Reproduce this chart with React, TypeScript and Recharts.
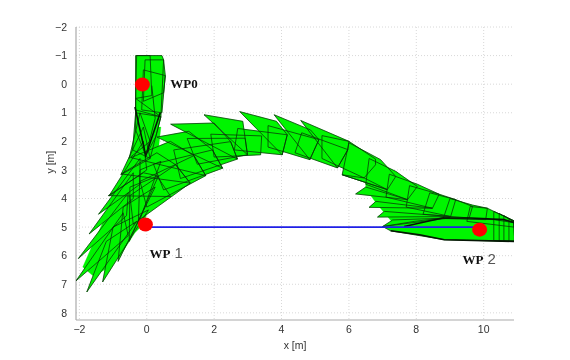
import { ScatterChart, Scatter, XAxis, YAxis, CartesianGrid } from "recharts";

type Corner = { x: number; y: number };

const xTicks = [-2, 0, 2, 4, 6, 8, 10];
const yTicks = [-2, -1, 0, 1, 2, 3, 4, 5, 6, 7, 8];

const q = (...c: number[][]): Corner[] => c.map(([x, y]) => ({ x, y }));

// footprints around WP0
const columnPieces = [
  q([-0.33, -1], [0.45, -1], [0.5, -0.85], [0.42, 1.14], [-0.33, 0.9]),
  q([-0.3, -1], [0.1, -1], [0.15, 0.4], [-0.33, 0.5]),
  q([-0.05, -0.85], [0.5, -0.85], [0.55, -0.3], [0.5, 0.3], [-0.1, 0.6]),
  q([-0.1, -0.5], [0.55, -0.3], [0.45, 1.0], [-0.15, 0.9]),
  q([-0.33, 0.5], [0.42, 1.14], [0.27, 1.83], [-0.03, 2.5], [-0.33, 1.6]),
  q([-0.33, 1.0], [0.42, 1.14], [0.1, 2.6], [-0.42, 2.3]),
];

// serrated fan around WP1, left tips then lower tips
const fanLeftSpikes = [
  q([-2.1, 6.88], [-0.7, 4.5], [-0.55, 5.3]),
  q([-2.03, 6.1], [-0.55, 3.8], [-0.6, 4.6]),
  q([-1.71, 5.24], [-0.4, 3.1], [-0.4, 4.0]),
  q([-1.43, 4.55], [-0.2, 2.6], [-0.2, 3.5]),
  q([-1.12, 3.91], [-0.1, 2.0], [0, 3.0]),
  q([-0.77, 3.17], [-0.1, 1.5], [0.1, 2.6]),
  q([-0.52, 2.59], [-0.2, 1.0], [0.1, 2.0]),
];
const fanLowSpikes = [
  q([-1.78, 7.27], [-1.2, 5.5], [-0.3, 4.8]),
  q([-1.31, 6.92], [-1.0, 5.0], [0.05, 4.4]),
  q([-0.85, 6.2], [-0.7, 4.3], [0.25, 3.6]),
  q([-0.52, 5.5], [-0.5, 3.6], [0.35, 3.2]),
  q([-0.25, 4.9], [-0.2, 3.0], [0.42, 2.7]),
];
const fanBody = q(
  [-0.33, 1.5], [0.42, 1.5], [0.3, 2.8], [0.2, 3.8], [-0.1, 4.9], [-0.35, 5.2], [-0.68, 5.8], [-1.1, 6.38],
  [-1.57, 6.73], [-1.9, 6.4], [-1.61, 5.62], [-1.31, 4.86], [-1.07, 4.22], [-0.85, 3.55], [-0.55, 2.95], [-0.4, 2.6],
);

// rising half of the arc: wedges with a tip on top, bands below them
const arcSpikes = [
  q([-1.14, 3.9], [-0.1, 3.1], [0.3, 3.2], [0.71, 3.93]),
  q([-0.76, 3.14], [0.3, 2.4], [0.86, 2.82], [1.29, 3.46]),
  q([-0.47, 2.57], [0.7, 2.0], [1.4, 2.5], [1.75, 3.2]),
  q([0.3, 1.85], [1.25, 1.65], [1.95, 2.3], [2.25, 2.94]),
  q([0.71, 1.4], [2.0, 1.36], [2.49, 2.01], [2.69, 2.62]),
  q([1.7, 1.07], [2.85, 1.3], [2.92, 1.89], [2.99, 2.47]),
  q([2.76, 0.96], [3.85, 1.3], [4.17, 1.77], [4.02, 2.47]),
  q([3.78, 1.07], [4.86, 1.6], [5.11, 1.94], [4.84, 2.64]),
  q([4.57, 1.27], [6.0, 2.0], [5.97, 2.29], [5.66, 2.93]),
];
const arcBands = [
  q([0.86, 2.82], [1.29, 3.46], [-0.4, 4.9], [-0.5, 3.9]),
  q([1.4, 2.5], [1.75, 3.2], [0, 4.3], [-0.2, 3.4]),
  q([1.95, 2.3], [2.25, 2.94], [0.5, 3.7], [0.2, 2.8]),
  q([2.49, 2.01], [2.69, 2.62], [1, 3.3], [0.8, 2.3]),
  q([2.92, 1.89], [2.99, 2.47], [1.5, 2.8], [1.2, 1.9]),
  q([3.41, 1.81], [3.38, 2.47], [2.0, 2.55], [1.9, 1.75]),
  q([4.17, 1.77], [4.02, 2.47], [2.6, 2.3], [2.7, 1.55]),
  q([5.11, 1.94], [4.84, 2.64], [3.6, 2.2], [3.6, 1.45]),
  q([5.97, 2.29], [5.66, 2.93], [4.4, 2.4], [4.6, 1.7]),
];

// falling half: bands on top, narrow spikes underneath
const fallBands = [
  q([5.2, 1.8], [6.0, 2.0], [6.79, 2.62], [6.79, 2.82], [6.45, 3.28], [5.2, 2.6]),
  q([6.0, 2.05], [6.94, 2.64], [7.39, 3.23], [7.14, 3.69], [5.8, 3.17]),
  q([6.6, 2.6], [7.39, 3.05], [8.03, 3.58], [7.74, 4.04], [6.5, 3.5]),
  q([7.2, 3.15], [8.03, 3.5], [8.68, 3.85], [8.48, 4.34], [7.1, 3.95]),
  q([7.8, 3.55], [8.68, 3.85], [9.17, 4.04], [9.02, 4.63], [7.7, 4.3]),
  q([8.4, 3.8], [9.17, 4.04], [9.67, 4.28], [9.57, 4.68], [8.2, 4.55]),
  q([9.0, 4.0], [9.67, 4.23], [10.11, 4.34], [10.06, 4.74], [8.8, 4.7]),
];
const fallSpikes = [
  q([5.8, 3.17], [6.45, 3.28], [7.14, 3.69]),
  q([6.2, 3.84], [6.5, 3.6], [7.74, 4.04]),
  q([6.6, 4.31], [6.8, 4.1], [8.48, 4.34]),
  q([6.85, 4.65], [7.05, 4.45], [9.02, 4.63]),
  q([7.0, 4.98], [7.3, 4.75], [9.0, 4.68]),
];
const fallBody = q([6.5, 3.3], [7.5, 3.7], [9.0, 4.4], [9.0, 4.75], [7.3, 4.85], [7.05, 4.5], [6.8, 4.15], [6.5, 3.65]);

// the parking spot around WP2
const endPieces = [
  q([7.0, 4.98], [7.94, 4.8], [8.78, 4.68], [10.31, 4.74], [10.92, 4.85], [10.92, 5.5], [8.83, 5.44], [7.24, 5.13]),
  q([9.6, 4.28], [10.11, 4.34], [10.3, 4.45], [10.9, 4.78], [10.9, 5.0], [9.5, 4.8]),
  q([10.3, 4.45], [10.9, 4.78], [10.92, 5.5], [10.3, 5.47]),
  q([10.46, 4.52], [10.9, 4.8], [10.92, 5.5], [10.46, 5.48]),
  q([10.6, 4.6], [10.9, 4.82], [10.92, 5.5], [10.6, 5.49]),
  q([10.75, 4.7], [10.92, 4.85], [10.92, 5.5], [10.75, 5.5]),
];

// heavier strokes where the outlines pile up in the original
const columnRim = q([-0.35, 0.8], [-0.03, 2.5], [0.4, 1.0]);
const columnCurve = q([0.15, 0.05], [0.25, 1.2], [-0.03, 2.5]);
const endTopRim = q([7.64, 4.98], [8.78, 4.68], [9.62, 4.68], [10.6, 4.74], [10.92, 4.85], [10.92, 5.5]);
const endBottomRim = q([7.24, 5.13], [8.1, 5.27], [8.83, 5.44], [10.92, 5.5]);
const heavyLines = [columnRim, endTopRim, endBottomRim];

const blueLine = q([0, 5], [9.7, 5]);
const waypoints = q([-0.13, 0.01], [-0.04, 4.91], [9.88, 5.09]);
const wpNames = ["WP0", "WP", "WP"];
const wpNumbers = ["", "1", "2"];
const wpLabelSpots = q([0.7, 0.15], [0.08, 6.07], [9.37, 6.3]);
const wpLabels = wpLabelSpots.map((s, i) => ({ ...s, name: wpNames[i], num: wpNumbers[i] }));

const outlined = [
  ...columnPieces,
  ...fanLeftSpikes,
  ...fanLowSpikes,
  ...arcSpikes,
  ...arcBands,
  ...fallBands,
  ...fallSpikes,
  ...endPieces,
];
const filled = [fanBody, fallBody, ...outlined];

const nothing = () => <g />;

const toPoints = (props: any) => props.points.map((p: any) => `${p.x},${p.y}`).join(" ");

const fillLine = (props: any) => <polygon points={toPoints(props)} fill="#00f500" stroke="#00f500" strokeWidth={0.3} />;

const edgeLine = (props: any) => (
  <polygon points={toPoints(props)} fill="none" stroke="#0a300a" strokeWidth={0.75} strokeLinejoin="round" />
);

const RedDot = (props: any) => <ellipse cx={props.cx} cy={props.cy} rx={7.5} ry={7} fill="#ff0000" />;

const WpLabel = (props: any) => (
  <text x={props.cx} y={props.cy} fontFamily="'Liberation Serif', serif" fontSize={13} fill="#111">
    <tspan fontWeight="bold">{props.name}</tspan>
    <tspan dx={4} fontSize={15} fill="#555" fontFamily="'Liberation Sans', sans-serif">
      {props.num}
    </tspan>
  </text>
);

const tickStyle = { fontFamily: "'Liberation Sans', sans-serif", fontSize: 10.5, fill: "#333" };

const minusFormat = (v: number) => (v < 0 ? `\u2212${-v}` : `${v}`);

export default function App() {
  return (
    <div style={{ position: "absolute", left: 0, top: 0, width: 570, height: 360, filter: "blur(0.45px)" }}>
      <ScatterChart width={570} height={360} margin={{ top: 27, right: 56, bottom: 0, left: 30 }}>
        <CartesianGrid stroke="#d8d8d8" strokeDasharray="1 2" horizontalValues={yTicks} verticalValues={xTicks} />
        <XAxis
          type="number"
          dataKey="x"
          domain={[-2.1, 10.9]}
          ticks={xTicks}
          allowDataOverflow
          stroke="#aaaaaa"
          strokeWidth={1.2}
          tickLine={false}
          tickMargin={0}
          tick={tickStyle}
          tickFormatter={minusFormat}
          label={{ value: "x [m]", position: "insideBottom", offset: 11, style: tickStyle }}
          height={40}
        />
        <YAxis
          type="number"
          dataKey="y"
          reversed
          domain={[-2, 8.25]}
          ticks={yTicks}
          allowDataOverflow
          stroke="#aaaaaa"
          strokeWidth={1.2}
          tickLine={false}
          tickMargin={3}
          tick={tickStyle}
          tickFormatter={minusFormat}
          label={{ value: "y [m]", angle: -90, position: "insideLeft", offset: 20, style: tickStyle }}
          width={46}
        />
        {/* fills first, every outline on top, so the crossing edges all show */}
        {filled.map((piece, i) => (
          <Scatter key={`fill${i}`} data={piece} line={fillLine} shape={nothing} isAnimationActive={false} />
        ))}
        {outlined.map((piece, i) => (
          <Scatter key={`edge${i}`} data={piece} line={edgeLine} shape={nothing} isAnimationActive={false} />
        ))}
        {heavyLines.map((rim, i) => (
          <Scatter
            key={`rim${i}`}
            data={rim}
            line={{ stroke: "#051505", strokeWidth: 1.6 }}
            shape={nothing}
            isAnimationActive={false}
          />
        ))}
        <Scatter
          data={columnCurve}
          line={{ stroke: "#0a300a", strokeWidth: 0.8 }}
          shape={nothing}
          isAnimationActive={false}
        />
        <Scatter
          data={blueLine}
          line={{ stroke: "#1f1fe6", strokeWidth: 1.8 }}
          shape={nothing}
          isAnimationActive={false}
        />
        <Scatter data={waypoints} shape={RedDot} isAnimationActive={false} />
        <Scatter data={wpLabels} shape={WpLabel} isAnimationActive={false} />
      </ScatterChart>
    </div>
  );
}
